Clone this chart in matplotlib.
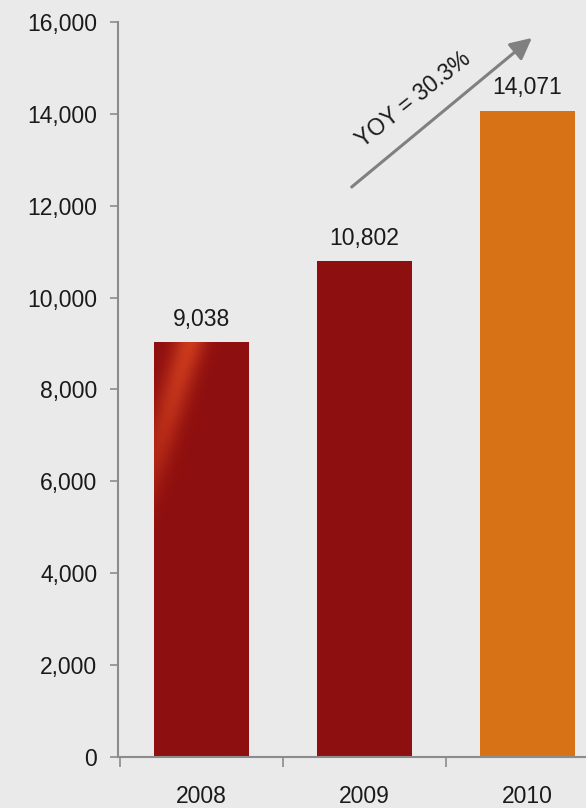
import numpy as np
import matplotlib
matplotlib.use("Agg")
import matplotlib.pyplot as plt
from matplotlib.ticker import FuncFormatter

plt.rcParams['font.family'] = ['Liberation Sans', 'DejaVu Sans']

# yearly values
years = ['2008', '2009', '2010']
values = [9038, 10802, 14071]
bar_colors = ['#8E0F0F', '#8E0F0F', '#D77316']
yoy_text = 'YOY = 30.3%'

bg = '#EAEAEA'
axis_gray = '#8C8C8C'
fs = 16.5

fig = plt.figure(figsize=(5.86, 8.08), dpi=100, facecolor=bg)
ax = fig.add_axes([0.2014, 0.0631, 0.7986, 0.9097], facecolor=bg)

x = np.arange(len(years))
bars = ax.bar(x, values, width=0.58, color=bar_colors, zorder=2)

# glossy streak on the first bar
b0 = bars[0]
bx0, bw, bh = b0.get_x(), b0.get_width(), b0.get_height()
ny, nx = 400, 100
u = np.linspace(0, 1, nx)[None, :]          # across the bar
v = np.linspace(1, 0, ny)[:, None]          # top -> bottom
depth = (1 - v) * bh / 16000 * 735          # pixels below top
xc = 0.38 - depth * 0.3 / 95                # streak centre drifts left going down
w = np.exp(-((u - xc) / 0.17) ** 2) * np.clip(1 - depth / 200, 0, 1) ** 0.7
base = np.array(matplotlib.colors.to_rgb('#8E0F0F'))
hi = np.array(matplotlib.colors.to_rgb('#CC3A1C'))
img = base[None, None, :] * (1 - w[..., None]) + hi[None, None, :] * w[..., None]
im = ax.imshow(img, extent=(bx0, bx0 + bw, 0, bh), aspect='auto', zorder=3,
               interpolation='bilinear')
im.set_clip_path(b0)

# value labels
for xi, val in zip(x, values):
    ax.annotate(f'{val:,}', (xi, val), xytext=(0, 8), textcoords='offset points',
                ha='center', va='bottom', fontsize=fs, color='#1A1A1A', zorder=4)

# growth arrow
ax.annotate('', xy=(2.028, 15652), xytext=(0.923, 12408),
            arrowprops=dict(arrowstyle='-|>,head_length=1.3,head_width=0.65',
                            color='#808080', lw=2.2, shrinkA=0, shrinkB=0))
ax.text(1.304, 14302, yoy_text, rotation=38.5, rotation_mode='anchor',
        ha='center', va='center', fontsize=fs, color='#1A1A1A')

ax.set_xlim(-0.51, 2.36)
ax.set_ylim(0, 16000)
ax.set_yticks(np.arange(0, 16001, 2000))
ax.yaxis.set_major_formatter(FuncFormatter(lambda v, p: f'{int(v):,}'))

# ticks between categories, labels at category centres
ax.set_xticks([-0.5, 0.5, 1.5])
ax.set_xticklabels([])
ax.set_xticks(x, minor=True)
ax.set_xticklabels(years, minor=True)
ax.tick_params(axis='x', which='major', direction='out', length=7, width=1.2,
               color=axis_gray)
ax.tick_params(axis='x', which='minor', length=0, pad=20.5, labelsize=fs,
               labelcolor='#1A1A1A')
ax.tick_params(axis='y', direction='out', length=6, width=1.2, color=axis_gray,
               pad=9, labelsize=fs, labelcolor='#1A1A1A')

for side in ['top', 'right']:
    ax.spines[side].set_visible(False)
for side in ['left', 'bottom']:
    ax.spines[side].set_color(axis_gray)
    ax.spines[side].set_linewidth(1.5)
    ax.spines[side].set_zorder(5)

fig.savefig('out.png', dpi=100, facecolor=bg)
